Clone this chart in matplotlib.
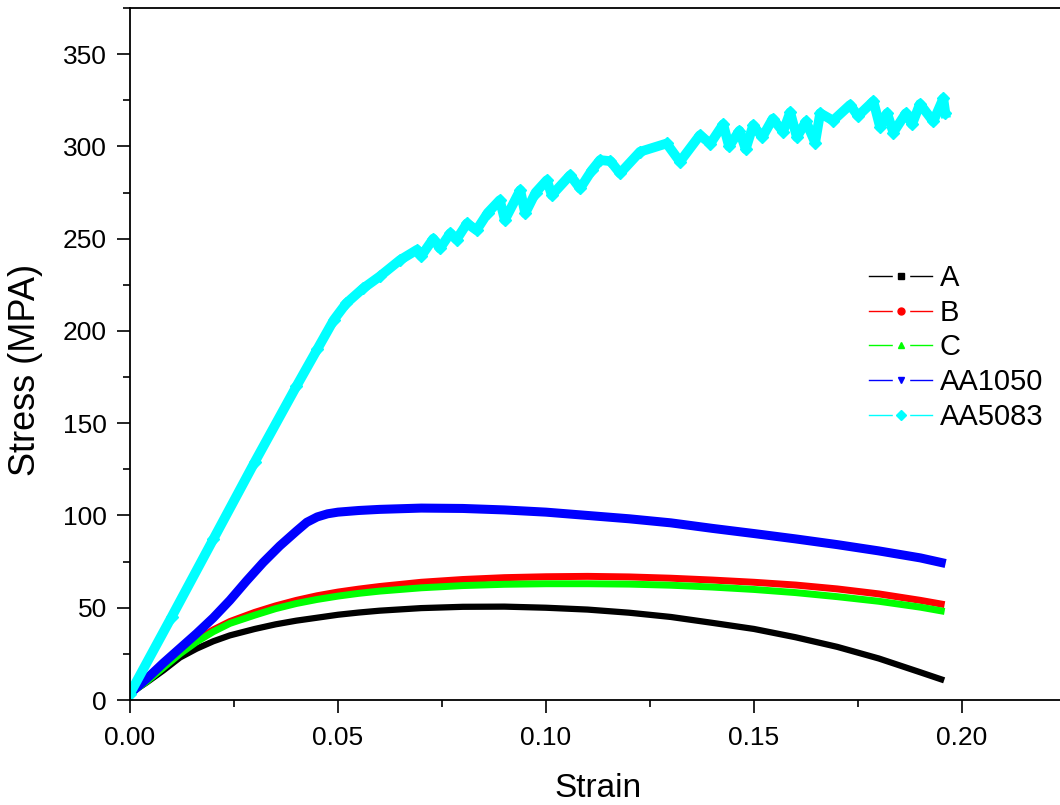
import matplotlib
matplotlib.use("Agg")
import matplotlib.pyplot as plt
from matplotlib.lines import Line2D
from matplotlib.legend_handler import HandlerTuple
from matplotlib.ticker import MultipleLocator, FormatStrFormatter

plt.rcParams["font.family"] = ["Liberation Sans", "DejaVu Sans"]

# strain grid shared by A, B and C
strain = [0, 0.004, 0.008, 0.012, 0.016, 0.02, 0.024, 0.03, 0.035, 0.04,
          0.045, 0.05, 0.055, 0.06, 0.07, 0.08, 0.09, 0.10,
          0.11, 0.12, 0.13, 0.14, 0.15, 0.16, 0.17, 0.18, 0.19, 0.195]

stress_a = [3.5, 9.5, 16, 23, 27.8, 31.8, 35, 38.5, 41, 43,
            44.6, 46.2, 47.4, 48.4, 49.8, 50.5, 50.6, 50,
            49, 47.3, 45, 41.8, 38.5, 34, 28.8, 22.5, 15, 11.2]
stress_b = [3.5, 10.5, 18, 25.5, 32.5, 38, 42.5, 47.5, 51, 54,
            56.5, 58.5, 60.1, 61.5, 63.8, 65.3, 66.3, 66.8,
            67, 66.7, 66, 65, 63.8, 62.3, 60.2, 57.5, 54, 52]
stress_c = [3.5, 10, 17.5, 25, 31.5, 37, 41.5, 46, 49.5, 52.3,
            54.5, 56.3, 57.8, 59, 60.8, 62, 62.7, 63,
            63, 62.8, 62.2, 61.2, 59.9, 58.2, 56, 53.5, 50.3, 48.3]

strain_1050 = [0, 0.004, 0.008, 0.012, 0.016, 0.02, 0.024, 0.028, 0.032, 0.036,
               0.04, 0.0425, 0.045, 0.0475, 0.05, 0.055, 0.06, 0.07, 0.08, 0.09,
               0.10, 0.11, 0.12, 0.13, 0.14, 0.15, 0.16, 0.17, 0.18, 0.19, 0.195]
stress_1050 = [3.5, 11.5, 20, 28, 36, 44.5, 54, 64.5, 74.5, 83.5,
               91.5, 96.3, 99.2, 100.9, 101.8, 102.7, 103.3, 104, 103.8, 103,
               101.8, 100, 98.2, 96, 93, 90.2, 87.3, 84.2, 80.8, 77, 74.5]

# AA5083 has serrated flow, so it gets its own points (peaks and dips)
strain_5083 = [0, 0.01, 0.02, 0.03, 0.04, 0.045, 0.049, 0.052, 0.056, 0.060,
               0.0649, 0.069, 0.070, 0.0729, 0.0745, 0.077, 0.0785, 0.081,
               0.0833, 0.086, 0.0889, 0.0901, 0.0938, 0.095, 0.0975, 0.1002,
               0.1014, 0.1058, 0.1082, 0.111, 0.113, 0.1155, 0.1178, 0.1226,
               0.129, 0.1322, 0.137, 0.1395, 0.1426, 0.144, 0.1465, 0.148,
               0.1498, 0.152, 0.1545, 0.157, 0.1587, 0.1603, 0.1625, 0.1647,
               0.1659, 0.169, 0.1731, 0.175, 0.1787, 0.1803, 0.182, 0.1835,
               0.1865, 0.188, 0.1899, 0.1931, 0.1955, 0.196]
stress_5083 = [3.5, 45, 87, 129, 170, 190, 206, 215, 223, 229.5,
               238.4, 244, 240.5, 250, 244.7, 253, 249.5, 258.3,
               254.6, 264, 270.9, 260.1, 276.3, 263.7, 275, 281.7,
               273.6, 284.4, 277.2, 287, 292.6, 292, 285.4, 297.1,
               301.6, 291.7, 306.1, 301.5, 312, 300, 308.5, 298.5,
               311.5, 305, 315, 308, 318.5, 305, 313.5, 302,
               318, 314, 322.5, 316.5, 324.5, 310.5, 318, 307.5,
               318, 312, 323, 313.5, 326, 318]

labels = ["A", "B", "C", "AA1050", "AA5083"]
colors = ["#000000", "#ff0000", "#00ff00", "#0000ff", "#00ffff"]
markers = ["s", "o", "^", "v", "D"]

fig = plt.figure(figsize=(10.6, 8.05), dpi=100)
ax = fig.add_axes([130 / 1060, 105 / 805, 936 / 1060, 692 / 805])

ax.plot(strain, stress_a, color=colors[0], lw=4.5, solid_joinstyle="round")
ax.plot(strain, stress_b, color=colors[1], lw=5, solid_joinstyle="round")
ax.plot(strain, stress_c, color=colors[2], lw=5, solid_joinstyle="round")
ax.plot(strain_1050, stress_1050, color=colors[3], lw=6.5, solid_joinstyle="round")
ax.plot(strain_5083, stress_5083, color=colors[4], lw=7, marker="D",
        markersize=6, solid_joinstyle="round")

ax.set_xlim(0, 0.225)
ax.set_ylim(0, 375)
ax.xaxis.set_major_locator(MultipleLocator(0.05))
ax.xaxis.set_minor_locator(MultipleLocator(0.025))
ax.xaxis.set_major_formatter(FormatStrFormatter("%.2f"))
ax.yaxis.set_major_locator(MultipleLocator(50))
ax.yaxis.set_minor_locator(MultipleLocator(25))

for sp in ax.spines.values():
    sp.set_linewidth(1.3)
ax.tick_params(which="both", direction="out", width=1.2, labelsize=19)
ax.tick_params(which="major", length=9.5, pad=7)
ax.tick_params(which="minor", length=5)
ax.tick_params(axis="x", which="major", pad=9)

ax.set_xlabel("Strain", fontsize=24)
ax.set_ylabel("Stress (MPA)", fontsize=26)
ax.xaxis.set_label_coords(0.5, -0.105)
ax.yaxis.set_label_coords(-0.093, 0.477)

# legend: thin line, white block behind the marker to break the line (Origin style)
handles = []
for c, m in zip(colors, markers):
    line = Line2D([], [], color=c, lw=1, marker="s", markersize=12,
                  markerfacecolor="white", markeredgecolor="white")
    mark = Line2D([], [], color=c, lw=0, marker=m, markersize=5)
    handles.append((line, mark))
ax.legend(handles=handles, labels=labels, handler_map={tuple: HandlerTuple(ndivide=1)},
          loc="upper left", bbox_to_anchor=(0.79, 0.63),
          frameon=False, fontsize=21, handlelength=2.13, handletextpad=0.27,
          labelspacing=0.23, borderpad=0, borderaxespad=0, numpoints=1)

fig.savefig("out.png", dpi=100)
